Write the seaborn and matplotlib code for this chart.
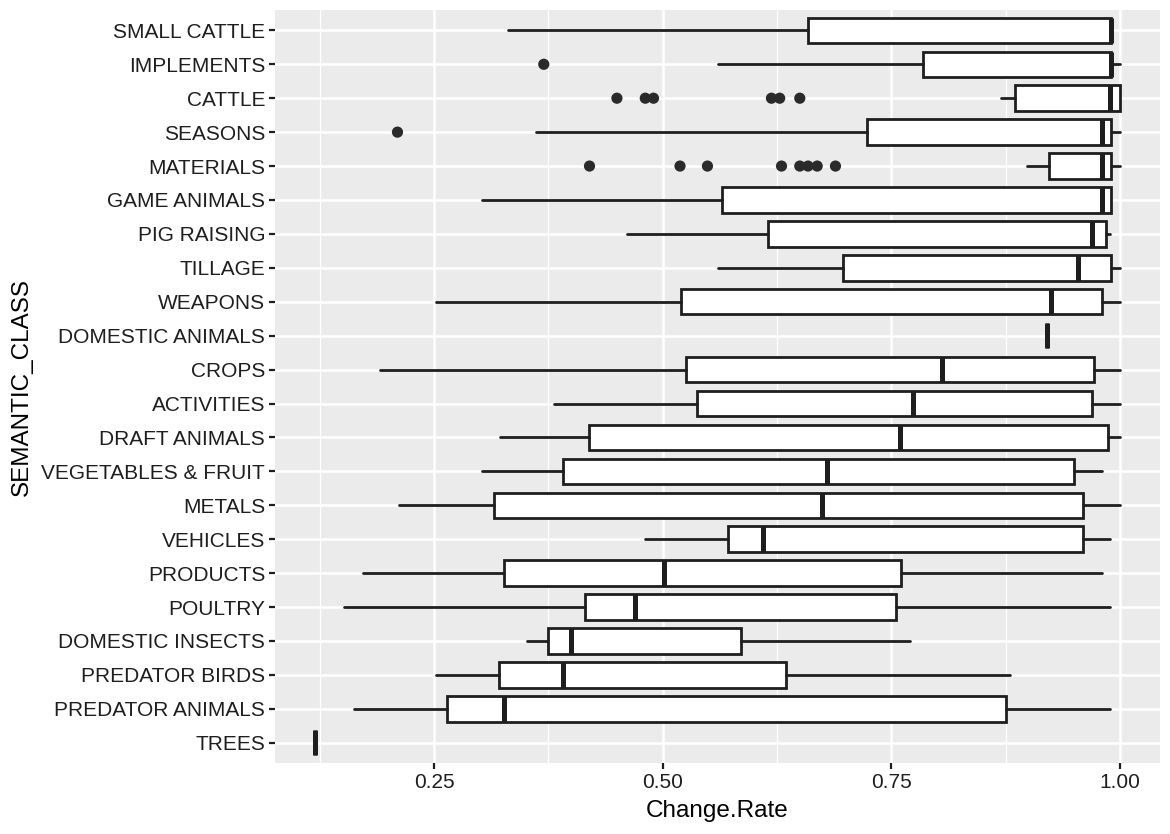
import matplotlib
matplotlib.use('Agg')
import matplotlib.pyplot as plt
import seaborn as sns
import pandas as pd
from matplotlib.ticker import FixedLocator

classes = ['SMALL CATTLE', 'IMPLEMENTS', 'CATTLE', 'SEASONS', 'MATERIALS',
           'GAME ANIMALS', 'PIG RAISING', 'TILLAGE', 'WEAPONS', 'DOMESTIC ANIMALS',
           'CROPS', 'ACTIVITIES', 'DRAFT ANIMALS', 'VEGETABLES & FRUIT', 'METALS',
           'VEHICLES', 'PRODUCTS', 'POULTRY', 'DOMESTIC INSECTS', 'PREDATOR BIRDS',
           'PREDATOR ANIMALS', 'TREES']

whisk_lo = [0.331, 0.561, 0.870, 0.361, 0.899, 0.302, 0.461, 0.561, 0.252, 0.920,
            0.191, 0.381, 0.322, 0.302, 0.212, 0.481, 0.172, 0.152, 0.352, 0.252,
            0.162, 0.120]
q1 = [0.659, 0.785, 0.885, 0.724, 0.922, 0.565, 0.615, 0.697, 0.520, 0.920,
      0.526, 0.538, 0.420, 0.391, 0.316, 0.571, 0.326, 0.415, 0.375, 0.321,
      0.264, 0.120]
median = [0.990, 0.990, 0.989, 0.981, 0.981, 0.981, 0.970, 0.954, 0.925, 0.920,
          0.805, 0.774, 0.760, 0.680, 0.674, 0.610, 0.501, 0.470, 0.400, 0.391,
          0.326, 0.120]
q3 = [0.990, 0.990, 1.000, 0.990, 0.990, 0.990, 0.985, 0.990, 0.981, 0.920,
      0.972, 0.970, 0.987, 0.950, 0.960, 0.960, 0.761, 0.755, 0.586, 0.635,
      0.876, 0.120]
whisk_hi = [0.990, 1.000, 1.000, 1.000, 1.000, 0.990, 0.989, 1.000, 1.000, 0.920,
            1.000, 1.000, 1.000, 0.980, 1.000, 0.989, 0.980, 0.989, 0.770, 0.880,
            0.989, 0.120]

outliers = {
    'IMPLEMENTS': [0.370],
    'CATTLE': [0.450, 0.481, 0.490, 0.619, 0.628, 0.650],
    'SEASONS': [0.210],
    'MATERIALS': [0.420, 0.519, 0.549, 0.630, 0.650, 0.659, 0.669, 0.689],
}

sns.set_theme(style='darkgrid', rc={
    'axes.facecolor': '#EBEBEB',
    'grid.color': 'white',
    'axes.edgecolor': '#EBEBEB',
})
plt.rcParams['font.family'] = ['Liberation Sans', 'DejaVu Sans']

line_col = '#1e1e1e'
fig, ax = plt.subplots(figsize=(11.7, 8.34), dpi=100)
fig.subplots_adjust(left=0.235, right=0.9915, bottom=0.085, top=0.988)

pos = list(range(len(classes)))
stats = []
for i, c in enumerate(classes):
    stats.append({'label': c, 'whislo': whisk_lo[i], 'q1': q1[i], 'med': median[i],
                  'q3': q3[i], 'whishi': whisk_hi[i], 'fliers': []})

ax.bxp(stats, positions=pos, vert=False, widths=0.75, patch_artist=True,
       showcaps=False, showfliers=False,
       boxprops=dict(facecolor='white', edgecolor=line_col, linewidth=2.0),
       whiskerprops=dict(color=line_col, linewidth=2.0),
       medianprops=dict(color=line_col, linewidth=3.6, solid_capstyle='butt'),
       zorder=3)

out_df = pd.DataFrame([(c, v) for c, vals in outliers.items() for v in vals],
                      columns=['SEMANTIC_CLASS', 'Change.Rate'])
out_df['pos'] = out_df['SEMANTIC_CLASS'].map({c: i for i, c in enumerate(classes)})
sns.scatterplot(data=out_df, x='Change.Rate', y='pos', ax=ax, color='#2a2a2a',
                s=65, edgecolor='none', zorder=4, legend=False)

ax.set_xlim(0.076, 1.044)
ax.set_ylim(len(classes) - 0.4, -0.6)
ax.set_yticks(pos)
ax.set_yticklabels(classes)
ax.set_xticks([0.25, 0.5, 0.75, 1.0])
ax.set_xticklabels(['0.25', '0.50', '0.75', '1.00'])
ax.xaxis.set_minor_locator(FixedLocator([0.125, 0.375, 0.625, 0.875]))
ax.grid(which='major', color='white', linewidth=1.8)
ax.grid(which='minor', axis='x', color='white', linewidth=0.9)
ax.set_axisbelow(True)
ax.tick_params(axis='both', which='major', length=4, width=1.6, color=line_col,
               labelsize=15, labelcolor='#1e1e1e', pad=3, bottom=True, left=True)
ax.tick_params(which='minor', length=0)
for s in ax.spines.values():
    s.set_visible(False)
ax.set_xlabel('Change.Rate', fontsize=17.5, color='black', labelpad=6)
ax.set_ylabel('SEMANTIC_CLASS', fontsize=17.5, color='black', labelpad=6)

fig.savefig('out.png', dpi=100)
